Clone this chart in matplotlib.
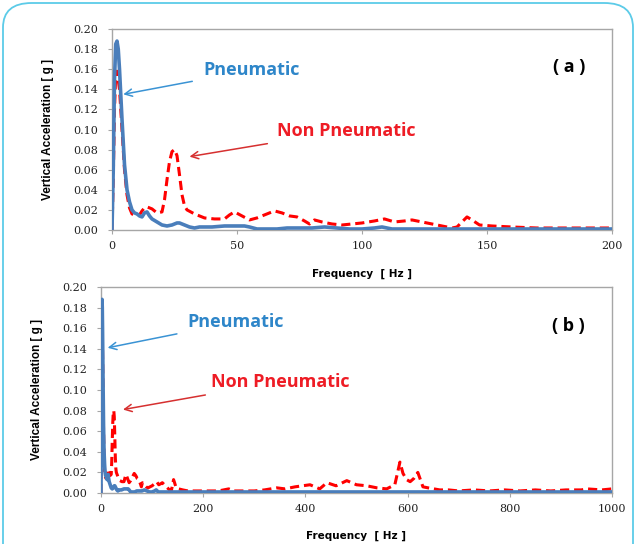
import matplotlib.pyplot as plt
from matplotlib.patches import FancyBboxPatch

# --- data ---
# panel (a): 0-200 Hz
pneu_f = [0, 0.5, 1, 1.5, 2, 2.5, 3, 4, 5, 6, 7, 8, 9, 10, 11, 12, 13, 14, 15, 16,
          18, 20, 22, 24, 26, 27, 29, 31, 33, 35, 37, 40, 45, 50, 53, 55, 58, 62,
          66, 70, 75, 80, 85, 90, 95, 100, 105, 108, 112, 120, 130, 140, 150, 160,
          170, 180, 190, 200]
pneu_v = [0.0, 0.06, 0.15, 0.185, 0.188, 0.18, 0.16, 0.11, 0.065, 0.04, 0.028, 0.02,
          0.017, 0.016, 0.014, 0.013, 0.017, 0.018, 0.014, 0.011, 0.008, 0.005,
          0.004, 0.005, 0.007, 0.007, 0.005, 0.003, 0.002, 0.003, 0.003, 0.003,
          0.004, 0.004, 0.004, 0.003, 0.001, 0.001, 0.001, 0.002, 0.002, 0.002,
          0.003, 0.002, 0.001, 0.001, 0.002, 0.003, 0.001, 0.001, 0.001, 0.001,
          0.001, 0.001, 0.001, 0.001, 0.001, 0.001]

nonp_f = [0, 0.5, 1, 1.5, 2, 3, 4, 5, 6, 7, 8, 9, 10, 11, 12, 13, 14, 16, 18, 20, 21,
          22, 23, 24, 25, 26, 27, 28, 29, 30, 33, 37, 41, 45, 47, 49, 52, 55, 58, 62,
          65, 68, 71, 74, 77, 79, 81, 84, 88, 92, 96, 100, 105, 109, 113, 117, 120,
          124, 128, 132, 136, 138, 140, 142, 144, 147, 152, 160, 170, 180, 190, 200]
nonp_v = [0.0, 0.05, 0.12, 0.155, 0.158, 0.14, 0.1, 0.06, 0.035, 0.022, 0.016, 0.015,
          0.014, 0.015, 0.019, 0.022, 0.023, 0.021, 0.017, 0.018, 0.03, 0.05, 0.068,
          0.078, 0.08, 0.074, 0.055, 0.035, 0.024, 0.02, 0.016, 0.012, 0.011, 0.011,
          0.015, 0.018, 0.014, 0.01, 0.012, 0.016, 0.019, 0.017, 0.014, 0.013, 0.009,
          0.006, 0.01, 0.008, 0.006, 0.005, 0.006, 0.007, 0.009, 0.011, 0.008, 0.009,
          0.01, 0.008, 0.006, 0.004, 0.002, 0.003, 0.008, 0.013, 0.01, 0.005, 0.004,
          0.003, 0.002, 0.002, 0.002, 0.002]

# panel (b): continuation 200-1000 Hz
pneu_f_hi = [250, 400, 600, 800, 1000]
pneu_v_hi = [0.001, 0.001, 0.001, 0.001, 0.001]

nonp_f_hi = [210, 230, 250, 260, 280, 300, 320, 344, 360, 380, 409, 428, 442, 460,
             481, 500, 520, 540, 559, 575, 585, 591, 598, 605, 612, 620, 630, 640,
             663, 680, 700, 730, 760, 790, 820, 850, 880, 910, 940, 951, 980, 1000]
nonp_v_hi = [0.002, 0.002, 0.004, 0.002, 0.002, 0.002, 0.003, 0.005, 0.004, 0.006,
             0.008, 0.004, 0.01, 0.007, 0.012, 0.008, 0.007, 0.005, 0.004, 0.008,
             0.03, 0.019, 0.013, 0.011, 0.014, 0.02, 0.006, 0.005, 0.003, 0.003,
             0.002, 0.003, 0.002, 0.003, 0.002, 0.003, 0.002, 0.003, 0.003, 0.004,
             0.003, 0.004]

blue = '#4a7ebb'
red = '#ff0000'

fig = plt.figure(figsize=(6.36, 5.44), dpi=100)
W, H = 636, 544

# rounded cyan frame
frame = FancyBboxPatch((3 / W, -0.1), 630 / W, 1.1 - 3 / H,
                       boxstyle='round,pad=0,rounding_size=0.045',
                       transform=fig.transFigure, fill=False,
                       edgecolor='#5ccbe8', linewidth=1.3)
fig.patches.append(frame)


def setup(ax, xmax, xstep):
    ax.set_xlim(0, xmax)
    ax.set_ylim(0, 0.20)
    ax.set_xticks(range(0, xmax + 1, xstep))
    ax.set_yticks([i / 100 for i in range(0, 21, 2)])
    ax.set_yticklabels(['%.2f' % (i / 100) for i in range(0, 21, 2)])
    for s in ax.spines.values():
        s.set_color('#a6a6a6')
        s.set_linewidth(1.0)
    ax.tick_params(length=3, width=0.8, color='#a6a6a6', labelsize=8,
                   labelcolor='#222222')
    ax.tick_params(axis='y', pad=7)
    ax.tick_params(axis='x', pad=5)
    for t in ax.get_xticklabels() + ax.get_yticklabels():
        t.set_family('DejaVu Serif')
    ax.set_ylabel('Vertical Acceleration [ g ]',
                  family=['Liberation Sans Narrow', 'Liberation Sans'],
                  weight='bold', fontsize=8.5, labelpad=14)


# (a)
ax1 = fig.add_axes([112 / W, 1 - 230 / H, 500 / W, 201 / H])
ax1.plot(nonp_f, nonp_v, color=red, lw=2.2, ls=(0, (3, 1.6)), zorder=2)
ax1.plot(pneu_f, pneu_v, color=blue, lw=2.6, zorder=3)
setup(ax1, 200, 50)
ax1.set_xlabel('Frequency  [ Hz ]', family='DejaVu Sans', weight='bold',
               fontsize=7.5, labelpad=13)
ax1.text(0.915, 0.81, '( a )', transform=ax1.transAxes, fontsize=13,
         weight='bold', family='Open Sans', ha='center', va='center')
ax1.annotate('Pneumatic', xy=(4.5, 0.135), xytext=(36.5, 0.159),
             color='#2e86c9', fontsize=13, weight='bold', family='Open Sans',
             va='center', ha='left',
             arrowprops=dict(arrowstyle='->', color='#3a93d4', lw=1.1,
                             shrinkA=6, shrinkB=0))
ax1.annotate('Non Pneumatic', xy=(31, 0.073), xytext=(66, 0.099),
             color='#ee1c25', fontsize=13, weight='bold', family='Open Sans',
             va='center', ha='left',
             arrowprops=dict(arrowstyle='->', color='#d63030', lw=1.1,
                             shrinkA=6, shrinkB=0))

# (b)
ax2 = fig.add_axes([101 / W, 1 - 493 / H, 511 / W, 206 / H])
ax2.plot(nonp_f + nonp_f_hi, nonp_v + nonp_v_hi, color=red, lw=2.2,
         ls=(0, (3, 1.6)), zorder=2)
ax2.plot(pneu_f + pneu_f_hi, pneu_v + pneu_v_hi, color=blue, lw=2.6, zorder=3)
setup(ax2, 1000, 200)
ax2.set_xlabel('Frequency  [ Hz ]', family='DejaVu Sans', weight='bold',
               fontsize=7.5, labelpad=12)
ax2.text(0.915, 0.81, '( b )', transform=ax2.transAxes, fontsize=13,
         weight='bold', family='Open Sans', ha='center', va='center')
ax2.annotate('Pneumatic', xy=(13, 0.141), xytext=(170, 0.166),
             color='#2e86c9', fontsize=13, weight='bold', family='Open Sans',
             va='center', ha='left',
             arrowprops=dict(arrowstyle='->', color='#3a93d4', lw=1.1,
                             shrinkA=6, shrinkB=0))
ax2.annotate('Non Pneumatic', xy=(43, 0.081), xytext=(215, 0.108),
             color='#ee1c25', fontsize=13, weight='bold', family='Open Sans',
             va='center', ha='left',
             arrowprops=dict(arrowstyle='->', color='#d63030', lw=1.1,
                             shrinkA=6, shrinkB=0))

fig.savefig('out.png', dpi=100)
